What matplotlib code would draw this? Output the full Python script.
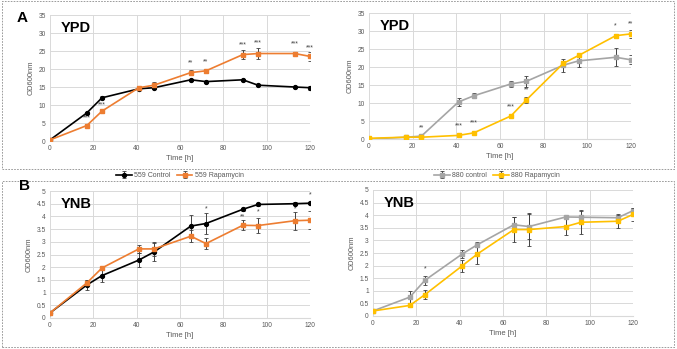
import matplotlib
matplotlib.use('Agg')
import matplotlib.pyplot as plt
import matplotlib.patches as patches

plt.rcParams['font.family'] = ['Liberation Sans', 'DejaVu Sans']

W, H = 677, 349

# 时间点
time_h = [0, 17, 24, 41, 48, 65, 72, 89, 96, 113, 120]

# A: YPD, 559
ypd_559_ctrl = [0.3, 7.8, 12.0, 14.5, 14.8, 17.0, 16.5, 17.0, 15.5, 15.0, 14.8]
ypd_559_ctrl_err = [0.1, 0.3, 0.4, 0.4, 0.4, 0.3, 0.3, 0.3, 0.3, 0.3, 0.5]
ypd_559_rapa = [0.3, 4.3, 8.3, 14.8, 15.5, 19.0, 19.5, 24.0, 24.3, 24.3, 23.5]
ypd_559_rapa_err = [0.1, 0.4, 0.4, 0.5, 0.8, 0.7, 0.6, 1.2, 1.5, 0.5, 1.3]
ypd_559_sig = ['', '***', '***', '', '', '**', '**', '***', '***', '***', '***']
ypd_559_sig_y = [0, 6.4, 10.0, 0, 0, 21.7, 22.0, 26.7, 27.2, 27.0, 26.0]

# A: YPD, 880
ypd_880_ctrl = [0.0, 0.5, 0.8, 10.3, 12.0, 15.3, 16.0, 20.5, 21.7, 22.7, 22.0]
ypd_880_ctrl_err = [0.1, 0.1, 0.2, 1.0, 0.7, 0.9, 1.5, 1.8, 1.8, 2.5, 1.2]
ypd_880_rapa = [0.2, 0.5, 0.5, 1.0, 1.7, 6.4, 10.8, 21.0, 23.2, 28.7, 29.2]
ypd_880_rapa_err = [0.1, 0.1, 0.1, 0.1, 0.2, 0.3, 0.9, 0.8, 0.5, 0.6, 1.2]
ypd_880_sig = ['', '', '**', '***', '***', '***', '**', '', '', '*', '**']
ypd_880_sig_y = [0, 0, 3.2, 3.7, 4.4, 9.0, 13.6, 0, 0, 31.3, 31.9]

# B: YNB, 559
ynb_559_ctrl = [0.2, 1.3, 1.67, 2.28, 2.6, 3.62, 3.72, 4.28, 4.47, 4.5, 4.52]
ynb_559_ctrl_err = [0.02, 0.2, 0.25, 0.28, 0.35, 0.45, 0.4, 0.05, 0.07, 0.07, 0.05]
ynb_559_rapa = [0.2, 1.38, 1.97, 2.72, 2.72, 3.22, 2.93, 3.65, 3.64, 3.83, 3.85]
ynb_559_rapa_err = [0.02, 0.12, 0.05, 0.15, 0.27, 0.23, 0.2, 0.2, 0.3, 0.35, 0.35]
ynb_559_sig = ['', '', '', '', '', '', '*', '**', '*', '*', '*']
ynb_559_sig_y = [0, 0, 0, 0, 0, 0, 4.3, 4.0, 4.17, 4.3, 4.86]

# B: YNB, 880
ynb_880_ctrl = [0.2, 0.75, 1.42, 2.45, 2.82, 3.62, 3.55, 3.93, 3.92, 3.9, 4.18]
ynb_880_ctrl_err = [0.02, 0.25, 0.17, 0.15, 0.1, 0.3, 0.5, 0.05, 0.25, 0.12, 0.12]
ynb_880_rapa = [0.2, 0.42, 0.85, 1.98, 2.45, 3.43, 3.43, 3.55, 3.72, 3.76, 4.03]
ynb_880_rapa_err = [0.02, 0.08, 0.18, 0.25, 0.4, 0.5, 0.65, 0.35, 0.48, 0.28, 0.25]
ynb_880_sig = ['', '', '*', '', '', '', '', '', '', '', '']
ynb_880_sig_y = [0, 0, 1.86, 0, 0, 0, 0, 0, 0, 0, 0]

c_black = '#000000'
c_orange = '#ED7D31'
c_grey = '#A5A5A5'
c_yellow = '#FFC000'
grid_c = '#D9D9D9'
txt_c = '#595959'

fig = plt.figure(figsize=(W / 100, H / 100), dpi=100)


def px_axes(left, top, right, bottom):
    return fig.add_axes([left / W, 1 - bottom / H, (right - left) / W, (bottom - top) / H])


def style(ax, ymax, ystep, title, ytick_fmt):
    ax.set_xlim(0, 120)
    ax.set_ylim(0, ymax)
    ax.set_xticks(range(0, 121, 20))
    yt = [i * ystep for i in range(int(round(ymax / ystep)) + 1)]
    ax.set_yticks(yt)
    ax.set_yticklabels([ytick_fmt(v) for v in yt])
    ax.grid(True, color=grid_c, linewidth=0.7)
    ax.set_axisbelow(True)
    for s in ax.spines.values():
        s.set_visible(False)
    ax.spines['bottom'].set_visible(True)
    ax.spines['bottom'].set_color(grid_c)
    ax.tick_params(length=0, labelsize=4.8, colors=txt_c, pad=3)
    ax.set_xlabel('Time [h]', fontsize=5.5, color=txt_c, labelpad=2)
    ax.set_ylabel('OD600nm', fontsize=5.5, color=txt_c, labelpad=3)
    ax.text(0.04, 0.95, title, transform=ax.transAxes, fontsize=10.5, fontweight='bold',
            ha='left', va='top')


def plot_series(ax, y, err, color, marker, label):
    ax.errorbar(time_h, y, yerr=err, color=color, marker=marker, markersize=2.8,
                linewidth=1.2, elinewidth=0.7, ecolor='#404040', capsize=1.6,
                capthick=0.6, label=label, zorder=3)


def plot_sig(ax, labels, ys):
    for t, s, v in zip(time_h, labels, ys):
        if s:
            ax.text(t, v, s, fontsize=5, color='#404040', ha='center', va='center')


ax1 = px_axes(50, 15, 310, 141)
plot_series(ax1, ypd_559_ctrl, ypd_559_ctrl_err, c_black, 'o', '559 Control')
plot_series(ax1, ypd_559_rapa, ypd_559_rapa_err, c_orange, 's', '559 Rapamycin')
plot_sig(ax1, ypd_559_sig, ypd_559_sig_y)
style(ax1, 35, 5, 'YPD', lambda v: f'{v:g}')

ax2 = px_axes(369, 13, 631, 139)
plot_series(ax2, ypd_880_ctrl, ypd_880_ctrl_err, c_grey, 's', '880 control')
plot_series(ax2, ypd_880_rapa, ypd_880_rapa_err, c_yellow, 's', '880 Rapamycin')
plot_sig(ax2, ypd_880_sig, ypd_880_sig_y)
style(ax2, 35, 5, 'YPD', lambda v: f'{v:g}')

ax3 = px_axes(50, 191, 310, 318)
plot_series(ax3, ynb_559_ctrl, ynb_559_ctrl_err, c_black, 'o', '559 Control')
plot_series(ax3, ynb_559_rapa, ynb_559_rapa_err, c_orange, 's', '559 Rapamycin')
plot_sig(ax3, ynb_559_sig, ynb_559_sig_y)
style(ax3, 5, 0.5, 'YNB', lambda v: f'{v:g}')

ax4 = px_axes(373, 190, 633, 316)
plot_series(ax4, ynb_880_ctrl, ynb_880_ctrl_err, c_grey, 's', '880 control')
plot_series(ax4, ynb_880_rapa, ynb_880_rapa_err, c_yellow, 's', '880 Rapamycin')
plot_sig(ax4, ynb_880_sig, ynb_880_sig_y)
style(ax4, 5, 0.5, 'YNB', lambda v: f'{v:g}')

# 虚线外框
for (x0, y0, x1, y1) in [(2, 1, 674, 169), (2, 181, 674, 347)]:
    rect = patches.Rectangle((x0 / W, 1 - y1 / H), (x1 - x0) / W, (y1 - y0) / H,
                             transform=fig.transFigure, fill=False, edgecolor='#8C8C8C',
                             linestyle=(0, (2, 1.5)), linewidth=0.6)
    fig.add_artist(rect)

# 图例
h1, l1 = ax1.get_legend_handles_labels()
fig.legend(h1, l1, loc='center', bbox_to_anchor=(180 / W, 1 - 175.5 / H), ncol=2,
           frameon=False, fontsize=5, handlelength=2.2, columnspacing=1.0,
           handletextpad=0.3, labelcolor=txt_c)
h2, l2 = ax2.get_legend_handles_labels()
fig.legend(h2, l2, loc='center', bbox_to_anchor=(497 / W, 1 - 175.5 / H), ncol=2,
           frameon=False, fontsize=5, handlelength=2.2, columnspacing=1.0,
           handletextpad=0.3, labelcolor=txt_c)

# 面板字母
fig.text(22 / W, 1 - 18 / H, 'A', fontsize=11, fontweight='bold', ha='center', va='center')
fig.text(25 / W, 1 - 186 / H, 'B', fontsize=11, fontweight='bold', ha='center', va='center')

fig.savefig('out.png', dpi=100)
